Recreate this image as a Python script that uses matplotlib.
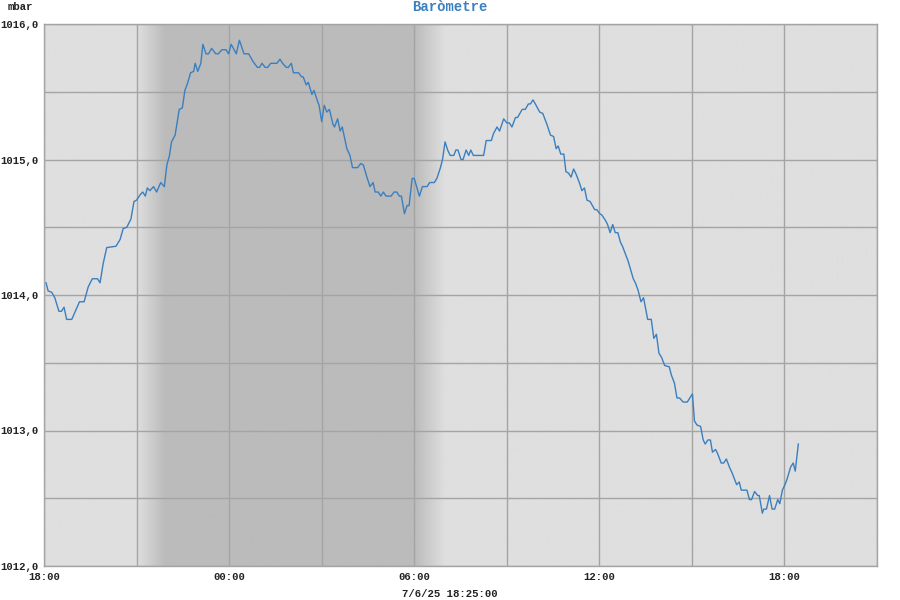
import numpy as np
import pandas as pd
import matplotlib
matplotlib.use("Agg")
import matplotlib.pyplot as plt
import matplotlib.dates as mdates
from matplotlib.ticker import FixedLocator, MultipleLocator, FuncFormatter

# ---- data -------------------------------------------------------------
start = pd.Timestamp("2025-07-05 18:00")
end = pd.Timestamp("2025-07-06 21:00")
# minutes after 18:00 on 5 July 2025
minutes = [4, 8, 15, 21, 29, 34, 39, 44, 54, 62, 69, 78, 86, 94, 104, 109, 115, 122, 140, 148,
           154, 161, 169, 175, 180, 187, 192, 197, 201, 206, 213, 219, 227, 234, 239, 244, 248, 255, 263, 269,
           274, 279, 285, 291, 294, 299, 305, 309, 315, 320, 326, 334, 339, 346, 354, 359, 364, 374, 380, 389,
           398, 407, 415, 419, 424, 430, 435, 441, 453, 459, 464, 471, 475, 481, 485, 495, 501, 504, 510, 514,
           521, 525, 532, 535, 540, 545, 550, 555, 562, 565, 571, 576, 580, 584, 589, 595, 600, 610, 616, 621,
           628, 634, 640, 644, 650, 655, 660, 665, 675, 681, 686, 691, 695, 701, 706, 710, 716, 720, 730, 736,
           745, 750, 759, 764, 771, 775, 780, 785, 790, 797, 801, 805, 811, 815, 821, 826, 830, 835, 855, 860,
           870, 874, 881, 886, 894, 900, 905, 910, 917, 921, 930, 936, 942, 946, 951, 957, 964, 970, 978, 985,
           991, 996, 1000, 1005, 1011, 1015, 1020, 1025, 1030, 1035, 1042, 1046, 1051, 1056, 1062, 1071, 1075, 1081, 1085, 1092,
           1096, 1101, 1106, 1111, 1116, 1121, 1125, 1131, 1136, 1146, 1150, 1155, 1161, 1166, 1174, 1181, 1186, 1191, 1196, 1201,
           1207, 1216, 1220, 1226, 1231, 1236, 1243, 1251, 1261, 1265, 1270, 1277, 1282, 1286, 1291, 1296, 1300, 1306, 1310, 1317,
           1322, 1327, 1333, 1339, 1347, 1352, 1356, 1367, 1372, 1376, 1382, 1388, 1391, 1397, 1400, 1405, 1411, 1416, 1421, 1427,
           1431, 1436, 1441, 1445, 1452, 1457, 1461, 1467]
pressure = [1014.09, 1014.03, 1014.02, 1013.98, 1013.88, 1013.88, 1013.91, 1013.82, 1013.82, 1013.89,
            1013.95, 1013.95, 1014.06, 1014.12, 1014.12, 1014.09, 1014.23, 1014.35, 1014.36, 1014.41,
            1014.49, 1014.50, 1014.56, 1014.69, 1014.70, 1014.74, 1014.76, 1014.73, 1014.79, 1014.77,
            1014.80, 1014.76, 1014.83, 1014.80, 1014.96, 1015.03, 1015.13, 1015.18, 1015.37, 1015.38,
            1015.51, 1015.56, 1015.64, 1015.65, 1015.71, 1015.65, 1015.71, 1015.85, 1015.78, 1015.78,
            1015.82, 1015.78, 1015.78, 1015.81, 1015.81, 1015.78, 1015.85, 1015.78, 1015.88, 1015.78,
            1015.78, 1015.72, 1015.68, 1015.68, 1015.71, 1015.68, 1015.68, 1015.71, 1015.71, 1015.74,
            1015.71, 1015.68, 1015.68, 1015.71, 1015.64, 1015.64, 1015.61, 1015.61, 1015.55, 1015.57,
            1015.48, 1015.51, 1015.43, 1015.40, 1015.28, 1015.40, 1015.35, 1015.37, 1015.26, 1015.24,
            1015.30, 1015.21, 1015.24, 1015.17, 1015.08, 1015.03, 1014.94, 1014.94, 1014.97, 1014.96,
            1014.87, 1014.80, 1014.83, 1014.76, 1014.76, 1014.73, 1014.76, 1014.73, 1014.73, 1014.76,
            1014.76, 1014.73, 1014.73, 1014.60, 1014.66, 1014.66, 1014.86, 1014.86, 1014.73, 1014.80,
            1014.80, 1014.83, 1014.83, 1014.86, 1014.94, 1015.00, 1015.13, 1015.07, 1015.03, 1015.03,
            1015.07, 1015.07, 1015.00, 1015.00, 1015.07, 1015.03, 1015.07, 1015.03, 1015.03, 1015.14,
            1015.14, 1015.19, 1015.24, 1015.21, 1015.30, 1015.27, 1015.27, 1015.24, 1015.31, 1015.31,
            1015.37, 1015.37, 1015.41, 1015.41, 1015.44, 1015.40, 1015.35, 1015.34, 1015.26, 1015.18,
            1015.17, 1015.08, 1015.10, 1015.04, 1015.04, 1014.91, 1014.90, 1014.87, 1014.93, 1014.89,
            1014.82, 1014.77, 1014.79, 1014.70, 1014.69, 1014.63, 1014.63, 1014.60, 1014.59, 1014.55,
            1014.52, 1014.46, 1014.52, 1014.46, 1014.46, 1014.39, 1014.36, 1014.30, 1014.25, 1014.12,
            1014.09, 1014.04, 1013.95, 1013.98, 1013.82, 1013.82, 1013.68, 1013.71, 1013.57, 1013.54,
            1013.48, 1013.47, 1013.41, 1013.35, 1013.24, 1013.24, 1013.21, 1013.21, 1013.27, 1013.07,
            1013.04, 1013.03, 1012.93, 1012.90, 1012.93, 1012.93, 1012.84, 1012.86, 1012.83, 1012.76,
            1012.76, 1012.79, 1012.73, 1012.68, 1012.60, 1012.62, 1012.56, 1012.56, 1012.49, 1012.49,
            1012.55, 1012.52, 1012.52, 1012.39, 1012.42, 1012.42, 1012.52, 1012.42, 1012.42, 1012.49,
            1012.46, 1012.56, 1012.60, 1012.64, 1012.73, 1012.76, 1012.70, 1012.90]

# night shading: dusk ramp, full night, dawn ramp
dusk_begin = pd.Timestamp("2025-07-05 21:00")
dusk_end = pd.Timestamp("2025-07-05 21:55")
dawn_begin = pd.Timestamp("2025-07-06 06:00")
dawn_end = pd.Timestamp("2025-07-06 07:00")

y_ticks = [1012, 1013, 1014, 1015, 1016]
title = "Baròmetre"
unit = "mbar"
footer = "7/6/25 18:25:00"

# ---- plot -------------------------------------------------------------
times = start + pd.to_timedelta(minutes, unit="min")

fig = plt.figure(figsize=(9, 6), dpi=100)
ax = fig.add_axes([44 / 900, 1 - 566 / 600, (877 - 44) / 900, (566 - 24) / 600])

light = np.array([0xdf, 0xdf, 0xdf]) / 255
dark = np.array([0xbb, 0xbb, 0xbb]) / 255
xs = pd.date_range(start, end, periods=1000)
t = np.zeros(len(xs))
for i, x in enumerate(xs):
    if dusk_begin <= x < dusk_end:
        t[i] = (x - dusk_begin) / (dusk_end - dusk_begin)
    elif dusk_end <= x < dawn_begin:
        t[i] = 1.0
    elif dawn_begin <= x < dawn_end:
        t[i] = 1 - (x - dawn_begin) / (dawn_end - dawn_begin)
img = light[None, :] * (1 - t[:, None]) + dark[None, :] * t[:, None]
x0, x1 = mdates.date2num(start), mdates.date2num(end)
ax.imshow(img[None, :, :], extent=[x0, x1, 1012, 1016], aspect="auto", zorder=0, interpolation="bilinear")

ax.plot(times, pressure, color="#3a7fbf", lw=1.0, zorder=3)

ax.set_xlim(start, end)
ax.set_ylim(1012, 1016)

ax.xaxis.set_major_locator(mdates.HourLocator(byhour=[0, 6, 12, 18]))
ax.xaxis.set_minor_locator(mdates.HourLocator(byhour=[3, 9, 15, 21]))
ax.xaxis.set_major_formatter(mdates.DateFormatter("%H:%M"))
ax.yaxis.set_major_locator(FixedLocator(y_ticks))
ax.yaxis.set_minor_locator(MultipleLocator(0.5))
ax.yaxis.set_major_formatter(FuncFormatter(lambda v, p: f"{v:.1f}".replace(".", ",")))

grid_c = "#a4a4a4"
ax.grid(True, which="both", color=grid_c, lw=1.0, zorder=1)
for s in ax.spines.values():
    s.set_color(grid_c)
    s.set_linewidth(1.0)

mono = "Liberation Mono"
ax.tick_params(which="both", length=0)
ax.tick_params(axis="x", pad=4)
ax.tick_params(axis="y", pad=4)
for lbl in ax.get_xticklabels() + ax.get_yticklabels():
    lbl.set_fontfamily(mono)
    lbl.set_fontweight("bold")
    lbl.set_fontsize(7.7)
    lbl.set_color("#222222")

fig.text(450 / 900, 1 - 7 / 600, title, ha="center", va="center", family=mono, weight="bold",
         fontsize=10, color="#3a80c0")
fig.text(8 / 900, 1 - 7 / 600, unit, ha="left", va="center", family=mono, weight="bold",
         fontsize=7.7, color="#222222")
fig.text(450 / 900, 1 - 594 / 600, footer, ha="center", va="center", family=mono, weight="bold",
         fontsize=7.7, color="#222222")

fig.savefig("out.png", dpi=100, facecolor="white")
